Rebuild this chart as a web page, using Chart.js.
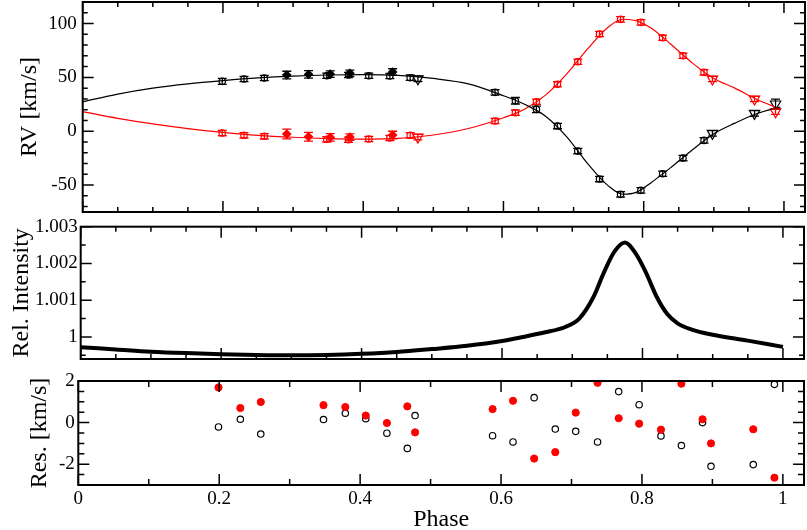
<!DOCTYPE html>
<html>
<head>
<meta charset="utf-8">
<script src="https://cdn.jsdelivr.net/npm/chart.js@4"></script>
<style>
body{margin:0;background:#fff;}
canvas{position:absolute;left:0;}
</style>
</head>
<body>
<canvas id="rv" width="807" height="214" style="top:0px"></canvas>
<canvas id="flux" width="807" height="151" style="top:214px"></canvas>
<canvas id="res" width="807" height="165" style="top:365px"></canvas>
<script>
// RV measurements (open circles), primary = black, secondary = red
const phase = [0.199,0.230,0.259,0.348,0.379,0.408,0.438,0.467,0.588,0.617,0.647,0.677,0.706,0.737,0.767,0.796,0.827,0.856,0.886];
const rvA = [46.3,48.5,49.4,51.5,52.2,51.5,51.3,49.7,36.1,28.3,20.3,4.8,-18.4,-44.4,-58.6,-54.9,-39.5,-24.9,-8.5];
const rvB = [-1.7,-3.8,-4.7,-7.5,-7.9,-7.2,-6.3,-3.8,9.5,17.2,27.4,43.6,64.5,90.3,103.9,101.1,86.8,70.1,54.7];
const errA = [2.8,2.5,2.5,2.5,2.5,2.5,2.5,2.5,2.5,3,3,2.5,2.5,2.5,2.5,2.5,2.5,2.5,2.5];
const errB = [2.5,2.5,2.5,2.5,2.5,2.5,2.5,2.5,2.5,2.5,2.5,2.5,2.5,2.5,2.5,2.5,2.5,2.5,2.5];

// triangles
const phaseTri = [0.478,0.898,0.958,0.988];
const rvATri = [48.7,-2.0,16.6,25.3];
const rvBTri = [-5.5,48.5,29.9,18.1];
const errATri = [2.5,2.5,2.5,4.5];
const errBTri = [2.5,2.5,2.5,2.5];

// filled symbols
const phaseFill = [0.291,0.322,0.353,0.381,0.442];
const rvAFill = [52.2,52.8,53.1,53.8,55.0];
const rvBFill = [-2.6,-5.1,-5.7,-5.4,-3.5];
const errAFill = [3.5,3.5,3,3,3];
const errBFill = [4.5,4,3.5,3,3.5];

// orbit model curves
const modelPhase = [0,0.05,0.1,0.15,0.2,0.25,0.3,0.35,0.4,0.45,0.5,0.55,0.6,0.63,0.66,0.69,0.72,0.75,0.77,0.79,0.81,0.84,0.87,0.9,0.93,0.96,0.995];
const modelA = [27.4,34.5,40,44,47,49.5,51.2,52.2,52.5,51.8,49,44,33,25,14,-5,-30,-51,-58.5,-56.5,-48,-33,-17,-2.3,7.5,16,22.5];
const modelB = [18.2,12,6.8,2.5,-1,-3.8,-5.6,-6.8,-7.3,-6.6,-3.5,2.5,12.5,20.5,33.5,53,76.5,97,104,102.5,96,80,63,49,40,30,20.5];

// relative intensity
const intPhase = [0,0.05,0.1,0.15,0.2,0.25,0.3,0.35,0.4,0.45,0.5,0.55,0.6,0.63,0.66,0.69,0.71,0.73,0.745,0.76,0.775,0.79,0.805,0.82,0.835,0.85,0.87,0.9,0.95,1.0];
const intensity = [0.99972,0.99966,0.99960,0.99956,0.99953,0.99951,0.99950,0.99951,0.99954,0.99959,0.99967,0.99976,0.99989,1.00000,1.00012,1.00027,1.00050,1.00108,1.00175,1.00232,1.00257,1.00228,1.00175,1.00110,1.00063,1.00037,1.00020,1.00006,0.99990,0.99973];

// residuals
const resPhase = [0.199,0.230,0.259,0.348,0.379,0.408,0.438,0.467,0.478,0.588,0.617,0.647,0.677,0.706,0.737,0.767,0.796,0.827,0.856,0.886,0.898,0.958,0.988];
const resA = [-0.21,0.16,-0.55,0.15,0.45,0.19,-0.51,-1.24,0.34,-0.63,-0.93,1.20,-0.31,-0.42,-0.93,1.49,0.86,-0.64,-1.10,0.0,-2.1,-2.02,1.84];
const resB = [1.69,0.70,0.99,0.84,0.75,0.34,-0.02,0.78,-0.47,0.65,1.05,-1.73,-1.42,0.48,1.91,0.21,-0.05,-0.34,1.87,0.16,-1.0,-0.32,-2.65];

const xTicks = [0,0.2,0.4,0.6,0.8,1];
const rvTicks = [-50,0,50,100];
const intTicks = [1,1.001,1.002,1.003];
const resTicks = [-2,0,2];

Chart.defaults.font.family = "'Liberation Serif','Times New Roman',serif";
Chart.defaults.color = '#000';

function pts(xs, ys){
  return xs.map((x,i) => ({x: x, y: ys[i]}));
}

// box around the plot with inward ticks on all sides
const frame = {
  id: 'frame',
  afterDraw(chart, args, o){
    const ctx = chart.ctx, a = chart.chartArea;
    ctx.save();
    ctx.strokeStyle = '#000';
    ctx.lineWidth = 1.5;
    ctx.beginPath();
    const marks = (scale, step, len) => {
      for (let i = Math.ceil(scale.min/step - 1e-6); i <= Math.floor(scale.max/step + 1e-6); i++) {
        const p = scale.getPixelForValue(i*step);
        if (scale.axis === 'x') {
          ctx.moveTo(p, a.bottom); ctx.lineTo(p, a.bottom - len);
          ctx.moveTo(p, a.top); ctx.lineTo(p, a.top + len);
        } else {
          ctx.moveTo(a.left, p); ctx.lineTo(a.left + len, p);
          ctx.moveTo(a.right, p); ctx.lineTo(a.right - len, p);
        }
      }
    };
    marks(chart.scales.x, o.xMinor, o.minorLen);
    marks(chart.scales.x, o.xMajor, o.majorLen);
    marks(chart.scales.y, o.yMinor, o.minorLen);
    marks(chart.scales.y, o.yMajor, o.majorLen);
    ctx.stroke();
    ctx.lineWidth = 2;
    ctx.strokeRect(a.left, a.top, a.right - a.left, a.bottom - a.top);
    ctx.restore();
  }
};

const errorBars = {
  id: 'errorBars',
  afterDatasetsDraw(chart){
    const ctx = chart.ctx, a = chart.chartArea, y = chart.scales.y;
    ctx.save();
    ctx.beginPath();
    ctx.rect(a.left, a.top, a.right - a.left, a.bottom - a.top);
    ctx.clip();
    chart.data.datasets.forEach((ds, i) => {
      if (!ds.errors) return;
      const meta = chart.getDatasetMeta(i);
      ctx.strokeStyle = ds.borderColor;
      ctx.lineWidth = 1.3;
      ctx.beginPath();
      meta.data.forEach((pt, j) => {
        const v = ds.data[j].y, e = ds.errors[j];
        const y1 = y.getPixelForValue(v + e), y2 = y.getPixelForValue(v - e);
        ctx.moveTo(pt.x, y1); ctx.lineTo(pt.x, y2);
        ctx.moveTo(pt.x - 4.5, y1); ctx.lineTo(pt.x + 4.5, y1);
        ctx.moveTo(pt.x - 4.5, y2); ctx.lineTo(pt.x + 4.5, y2);
      });
      ctx.stroke();
    });
    ctx.restore();
  }
};

const tickFont = {size: 19};
const titleFont = {size: 24, lineHeight: 1};

function yAxis(min, max, ticks, width, pad, title, titlePad, fmt){
  return {
    type: 'linear', min: min, max: max,
    afterBuildTicks: s => { s.ticks = ticks.map(v => ({value: v})); },
    afterFit: s => { s.width = width; s.paddingTop = 0; s.paddingBottom = 0; },
    grid: {display: false, drawTicks: false},
    border: {display: false},
    ticks: {font: tickFont, padding: pad, callback: fmt || (v => String(v))},
    title: {display: true, text: title, font: titleFont, padding: {top: titlePad, bottom: 0}}
  };
}

function symbols(label, xs, ys, errs, color, style, r, filled){
  return {
    label: label, data: pts(xs, ys), errors: errs,
    borderColor: color, backgroundColor: filled ? color : 'rgba(0,0,0,0)',
    pointStyle: style, pointRadius: r, pointBorderWidth: 1.2,
    pointRotation: style === 'triangle' ? 180 : 0, showLine: false
  };
}

function curve(label, xs, ys, color, w){
  return {
    label: label, data: pts(xs, ys), borderColor: color, borderWidth: w,
    pointRadius: 0, showLine: true, cubicInterpolationMode: 'monotone', fill: false
  };
}

const common = {
  responsive: false, animation: false, devicePixelRatio: 1,
  plugins: {legend: {display: false}, tooltip: {enabled: false}}
};

new Chart(document.getElementById('rv'), {
  type: 'scatter',
  data: {datasets: [
    curve('model A', modelPhase, modelA, '#000', 1.2),
    curve('model B', modelPhase, modelB, '#ff0000', 1.2),
    symbols('A', phase, rvA, errA, '#000', 'circle', 3.2, false),
    symbols('B', phase, rvB, errB, '#ff0000', 'circle', 3.2, false),
    symbols('A tri', phaseTri, rvATri, errATri, '#000', 'triangle', 6, false),
    symbols('B tri', phaseTri, rvBTri, errBTri, '#ff0000', 'triangle', 6, false),
    symbols('A fill', phaseFill, rvAFill, errAFill, '#000', 'rectRot', 4, true),
    symbols('B fill', phaseFill, rvBFill, errBFill, '#ff0000', 'rectRot', 4, true)
  ]},
  options: Object.assign({}, common, {
    layout: {autoPadding: false, padding: {left: 0, right: 2, top: 2, bottom: 2}},
    scales: {
      x: {type: 'linear', min: 0, max: 1.03, display: false},
      y: yAxis(-75, 120, rvTicks, 82.7, 6, 'RV [km/s]', 18)
    },
    plugins: Object.assign({}, common.plugins, {
      frame: {xMajor: 0.2, xMinor: 0.05, yMajor: 50, yMinor: 10, majorLen: 11, minorLen: 5}
    })
  }),
  plugins: [frame, errorBars]
});

new Chart(document.getElementById('flux'), {
  type: 'scatter',
  data: {datasets: [curve('intensity', intPhase, intensity, '#000', 4)]},
  options: Object.assign({}, common, {
    layout: {autoPadding: false, padding: {left: 0, right: 3, top: 12.7, bottom: 6}},
    scales: {
      x: {type: 'linear', min: 0, max: 1.03, display: false},
      y: yAxis(0.9994, 1.003, intTicks, 80.7, 3, 'Rel. Intensity', 10,
        v => v === 1 ? '1' : v.toFixed(3))
    },
    plugins: Object.assign({}, common.plugins, {
      frame: {xMajor: 0.2, xMinor: 0.05, yMajor: 0.001, yMinor: 0.0005, majorLen: 11, minorLen: 5}
    })
  }),
  plugins: [frame]
});

new Chart(document.getElementById('res'), {
  type: 'scatter',
  data: {datasets: [
    {label: 'res B', data: pts(resPhase, resB), pointRadius: 3.6, pointStyle: 'circle',
     backgroundColor: '#ff0000', borderColor: '#ff0000', pointBorderWidth: 1},
    {label: 'res A', data: pts(resPhase, resA), pointRadius: 3.2, pointStyle: 'circle',
     backgroundColor: 'rgba(0,0,0,0)', borderColor: '#000', pointBorderWidth: 1.2}
  ]},
  options: Object.assign({}, common, {
    layout: {autoPadding: false, padding: {left: 0, right: 3, top: 16, bottom: 0}},
    scales: {
      x: {
        type: 'linear', min: 0, max: 1.03,
        afterBuildTicks: s => { s.ticks = xTicks.map(v => ({value: v})); },
        afterFit: s => { s.height = 45; s.paddingLeft = 0; s.paddingRight = 0; },
        grid: {display: false, drawTicks: false},
        border: {display: false},
        ticks: {font: tickFont, padding: 3, maxRotation: 0, callback: v => String(+v.toFixed(1))},
        title: {display: true, text: 'Phase', font: titleFont, padding: {top: 0, bottom: -2}}
      },
      y: yAxis(-3, 2, resTicks, 78.3, 3.5, 'Res. [km/s]', 28)
    },
    plugins: Object.assign({}, common.plugins, {
      frame: {xMajor: 0.2, xMinor: 0.1, yMajor: 2, yMinor: 0.5, majorLen: 11, minorLen: 6}
    })
  }),
  plugins: [frame]
});
</script>
</body>
</html>
